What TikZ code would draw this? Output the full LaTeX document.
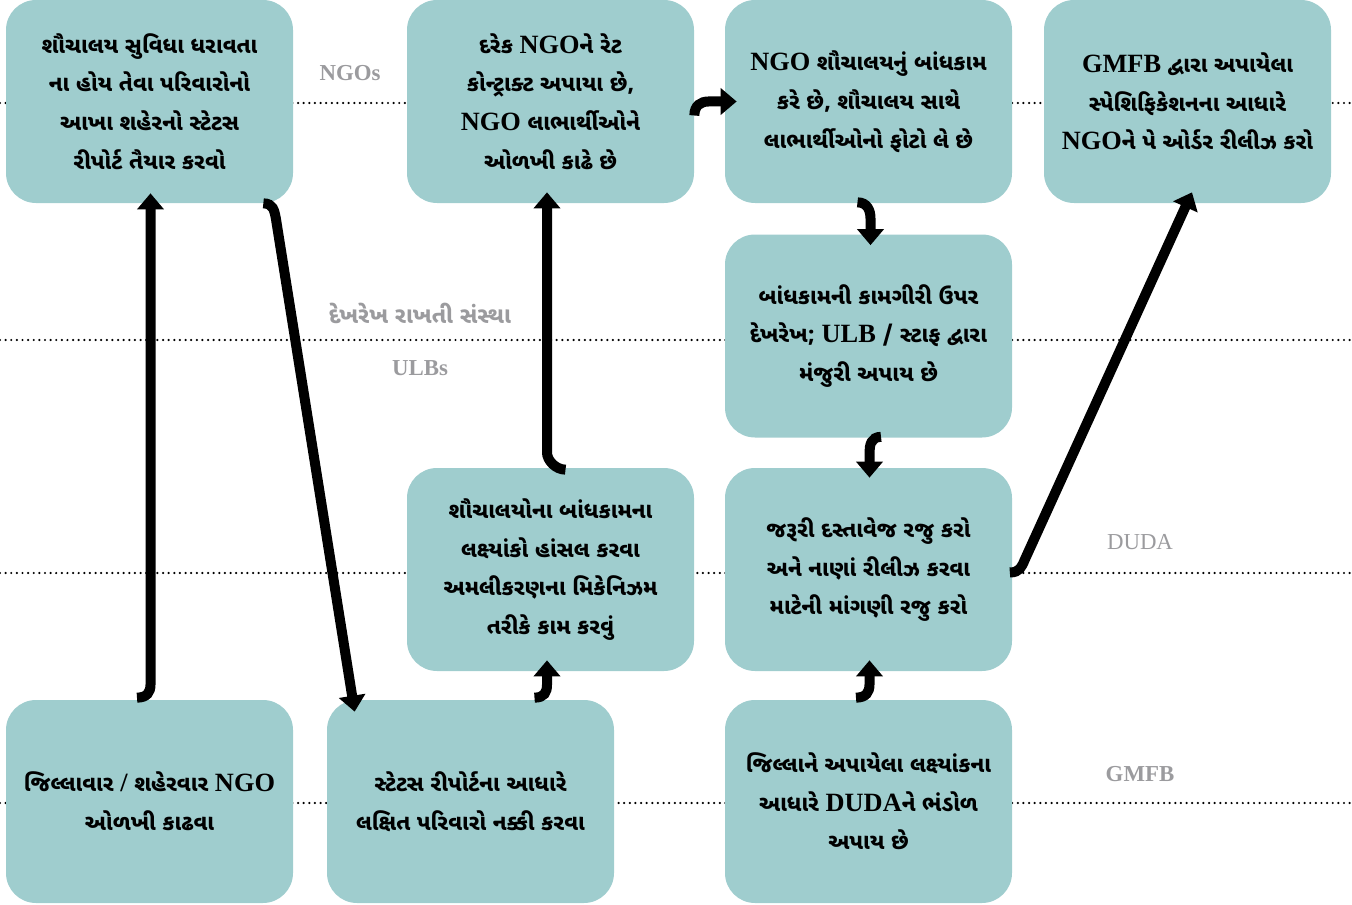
\documentclass[tikz,border=0pt]{standalone}
\usepackage{fontspec}
\setmainfont{Liberation Serif}
\newfontfamily\guj[Script=Gujarati,Scale=0.84]{Noto Sans Gujarati UI}
\usepackage{xcolor}
\usepackage{tikz}
\usetikzlibrary{arrows.meta}
\definecolor{boxteal}{RGB}{159,205,206}
\definecolor{lanegray}{RGB}{155,155,158}
\def\lat#1{{\rmfamily #1}}
\tikzset{
	box/.style={fill=boxteal,rounded corners=0.6cm,minimum width=5.74cm,minimum height=4.06cm,
		align=center,inner sep=0pt,font=\guj\bfseries\fontsize{15}{22}\selectfont},
	conn/.style={line width=0.2cm,-{Triangle[width=0.52cm,length=0.32cm]}},
	lane/.style={line width=1.4pt,dash pattern=on 0pt off 3.2pt,line cap=round},
	lanelabel/.style={text=lanegray,font=\bfseries\fontsize{13}{15}\selectfont}
}

\begin{document}
\begin{tikzpicture}
					\useasboundingbox (0,0) rectangle (27.04,-18.1);
					\foreach \y in {-2.06,-6.8,-11.46,-16.06}
						\draw[lane] (0,\y)--(27.04,\y);
					\node[lanelabel] (ngos) at (7.0,-1.46) {NGOs};
					\node[lanelabel,font=\guj\bfseries\fontsize{15.4}{17}\selectfont] (watch) at (8.4,-6.26) {દેખરેખ રાખતી સંસ્થા};
					\node[lanelabel] (ulbs) at (8.4,-7.36) {ULBs};
					\node[lanelabel,font=\fontsize{13}{15}\selectfont] (duda) at (22.8,-10.84) {DUDA};
					\node[lanelabel] (gmfb) at (22.8,-15.48) {GMFB};
					\node[box] (b1) at (2.99,-2.03) {શૌચાલય સુવિધા ધરાવતા\\ના હોય તેવા પરિવારોનો\\આખા શહેરનો સ્ટેટસ\\રીપોર્ટ તૈયાર કરવો};
					\node[box] (b2) at (11.01,-2.03) {દરેક \lat{NGO}ને રેટ\\કોન્ટ્રાક્ટ અપાયા છે,\\\lat{NGO} લાભાર્થીઓને\\ઓળખી કાઢે છે};
					\node[box] (b3) at (17.37,-2.03) {\lat{NGO} શૌચાલયનું બાંધકામ\\કરે છે, શૌચાલય સાથે\\લાભાર્થીઓનો ફોટો લે છે};
					\node[box] (b4) at (23.75,-2.03) {\lat{GMFB} દ્વારા અપાયેલા\\સ્પેશિફિકેશનના આધારે\\\lat{NGO}ને પે ઓર્ડર રીલીઝ કરો};
					\node[box] (b5) at (17.37,-6.72) {બાંધકામની કામગીરી ઉપર\\દેખરેખ; \lat{ULB} / સ્ટાફ દ્વારા\\મંજુરી અપાય છે};
					\node[box] (b6) at (11.01,-11.39) {શૌચાલયોના બાંધકામના\\લક્ષ્યાંકો હાંસલ કરવા\\અમલીકરણના મિકેનિઝમ\\તરીકે કામ કરવું};
					\node[box] (b7) at (17.37,-11.39) {જરૂરી દસ્તાવેજ રજુ કરો\\અને નાણાં રીલીઝ કરવા\\માટેની માંગણી રજુ કરો};
					\node[box] (b8) at (2.99,-16.03) {જિલ્લાવાર \lat{/} શહેરવાર \lat{NGO}\\ઓળખી કાઢવા};
					\node[box] (b9) at (9.41,-16.03) {સ્ટેટસ રીપોર્ટના આધારે\\લક્ષિત પરિવારો નક્કી કરવા};
					\node[box] (b10) at (17.37,-16.03) {જિલ્લાને અપાયેલા લક્ષ્યાંકના\\આધારે \lat{DUDA}ને ભંડોળ\\અપાય છે};
					\draw[conn] ([xshift=-0.25cm,yshift=0.04cm]b8.north) .. controls +(0.2,0) and +(0,-0.15) .. ([xshift=0.02cm,yshift=0.3cm]b8.north)--([xshift=0.02cm,yshift=0.2cm]b1.south);
					\draw[conn] ([xshift=-0.6cm]b1.south east) .. controls +(0.2,0) and +(-0.03,0.15) .. ([xshift=-0.35cm,yshift=-0.3cm]b1.south east)--([xshift=0.56cm,yshift=-0.24cm]b9.north west);
					\draw[conn] ([xshift=1.28cm,yshift=0.04cm]b9.north) .. controls +(0.2,0) and +(0,-0.15) .. ([xshift=1.53cm,yshift=0.3cm]b9.north)--([xshift=-0.07cm,yshift=0.22cm]b6.south);
					\draw[conn] ([xshift=0.3cm,yshift=-0.04cm]b6.north) .. controls +(-0.2,0) and +(0,-0.15) .. ([xshift=-0.07cm,yshift=0.3cm]b6.north)--([xshift=-0.07cm,yshift=0.22cm]b2.south);
					\draw[conn] ([yshift=-0.28cm]b2.east) .. controls +(0,0.2) and +(-0.15,0) .. ([xshift=0.28cm]b2.east)--([xshift=0.24cm]b3.west);
					\draw[conn] ([xshift=-0.22cm,yshift=0.02cm]b3.south) .. controls +(0.2,0) and +(0,0.15) .. ([xshift=0.04cm,yshift=-0.3cm]b3.south)--([xshift=0.04cm,yshift=-0.22cm]b5.north);
					\draw[conn] ([xshift=0.25cm,yshift=0.02cm]b5.south) .. controls +(-0.2,0) and +(0,0.15) .. ([xshift=0.02cm,yshift=-0.3cm]b5.south)--([xshift=0.02cm,yshift=-0.2cm]b7.north);
					\draw[conn] ([xshift=-0.25cm,yshift=0.04cm]b10.north) .. controls +(0.2,0) and +(0,-0.15) .. ([xshift=0.02cm,yshift=0.3cm]b10.north)--([xshift=0.02cm,yshift=0.22cm]b7.south);
					\draw[conn] ([xshift=-0.05cm,yshift=-0.06cm]b7.east) .. controls +(0.2,0) and +(-0.06,-0.14) .. ([xshift=0.25cm,yshift=0.2cm]b7.east)--([xshift=0.09cm,yshift=0.22cm]b4.south);
				\end{tikzpicture}
\end{document}
